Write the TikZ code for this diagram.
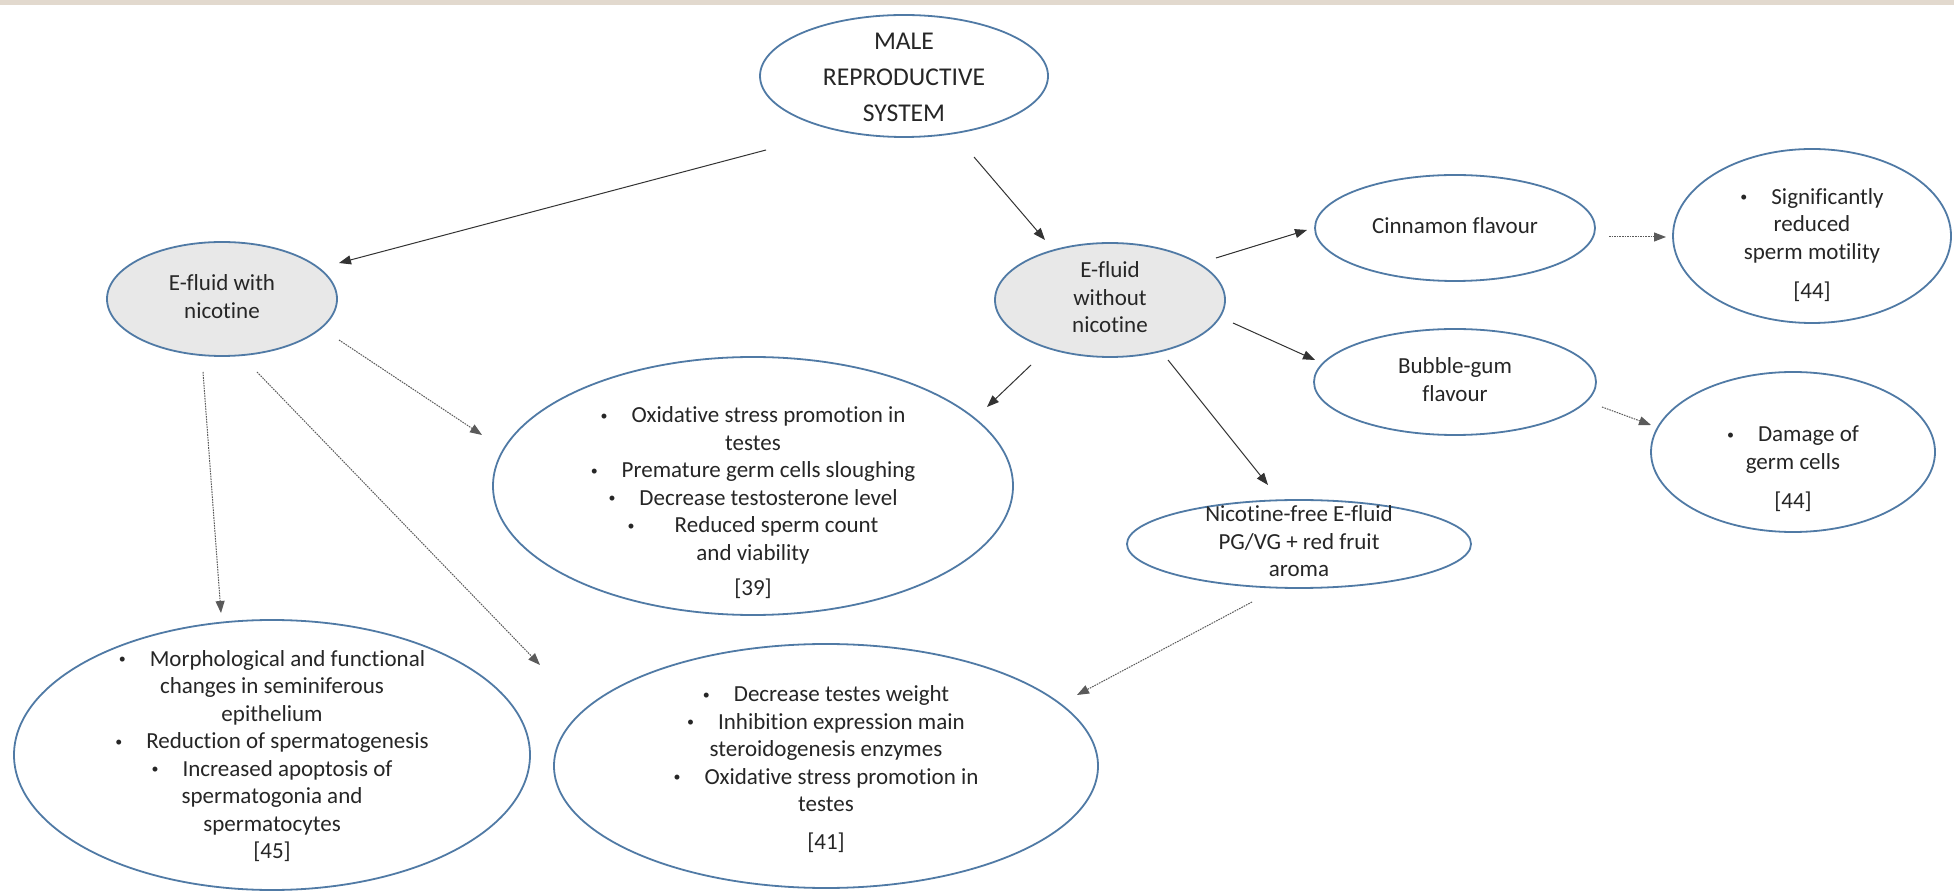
\documentclass[tikz,border=0pt]{standalone}
\usepackage{fontspec}
\setmainfont{Carlito}[Ligatures=NoCommon]
\usetikzlibrary{shapes.geometric,arrows.meta}
\definecolor{edgeblue}{RGB}{80,122,165}
\definecolor{fillgray}{RGB}{232,232,232}
\definecolor{topband}{RGB}{226,217,206}
\definecolor{dotgray}{RGB}{90,90,90}
\newcommand{\bul}{\raisebox{0.25ex}{\fontsize{7}{7}\selectfont\textbullet}\hspace{12pt}}
\newcommand{\ovt}[2]{\raisebox{#1}[0pt][0pt]{\begin{tabular}{@{}c@{}}#2\end{tabular}}}
\begin{document}
\begin{tikzpicture}[x=0.5pt,y=-0.5pt,
  oval/.style={ellipse,draw=edgeblue,line width=0.9pt,inner sep=0pt,align=center,
    font=\fontsize{11.5}{13.75}\selectfont,text=black!85},
  shaded/.style={oval,fill=fillgray},
  solidarrow/.style={-{Triangle[length=6pt,width=4.5pt]},line width=0.5pt,black!80},
  dotarrow/.style={-{Triangle[length=6pt,width=4.5pt]},line width=0.5pt,dotgray,dash pattern=on 0.8pt off 0.5pt}
]
\useasboundingbox (0,0) rectangle (1954,892);
\fill[white] (0,0) rectangle (1954,892);
\fill[topband] (0,0) rectangle (1954,5);

% nodes
\node[oval,minimum width=144pt,minimum height=61pt,font=\fontsize{12.8}{18}\selectfont] (male) at (904,76) {\ovt{-4pt}{MALE\\REPRODUCTIVE\\SYSTEM}};
\node[shaded,minimum width=115pt,minimum height=57pt] (with) at (222,299) {\ovt{-3pt}{E-fluid with\\nicotine}};
\node[shaded,minimum width=115pt,minimum height=57pt] (without) at (1110,300) {\ovt{-3pt}{E-fluid\\without\\nicotine}};
\node[oval,minimum width=140pt,minimum height=53pt] (cinn) at (1455,228) {\ovt{-3pt}{Cinnamon flavour}};
\node[oval,minimum width=139pt,minimum height=87pt] (sig) at (1812,236) {\ovt{-8pt}{\bul Significantly\\reduced\\sperm motility\\[6pt]{[44]}}};
\node[oval,minimum width=141pt,minimum height=53pt] (bubble) at (1455,382) {\ovt{-3pt}{Bubble-gum\\flavour}};
\node[oval,minimum width=142pt,minimum height=80pt] (damage) at (1793,452) {\ovt{-12pt}{\bul Damage of\\germ cells\\[6pt]{[44]}}};
\node[oval,minimum width=172pt,minimum height=44pt] (nfree) at (1299,544) {\ovt{-3pt}{Nicotine-free E-fluid\\PG/VG + red fruit\\aroma}};
\node[oval,minimum width=260pt,minimum height=129pt] (ox) at (753,486) {\ovt{-12pt}{\bul Oxidative stress promotion in\\testes\\\bul Premature germ cells sloughing\\\bul Decrease testosterone level\\\bul\hspace{8pt}Reduced sperm count\\and viability\\[4pt]{[39]}}};
\node[oval,minimum width=258pt,minimum height=135pt] (morph) at (272,755) {\ovt{-4pt}{\bul Morphological and functional\\changes in seminiferous\\epithelium\\\bul Reduction of spermatogenesis\\\bul Increased apoptosis of\\spermatogonia and\\spermatocytes\\{[45]}}};
\node[oval,minimum width=272pt,minimum height=122pt] (dec) at (826,766) {\ovt{-5pt}{\bul Decrease testes weight\\\bul Inhibition expression main\\steroidogenesis enzymes\\\bul Oxidative stress promotion in\\testes\\[5pt]{[41]}}};

% connector end points
\coordinate (m2wA) at (766,150); \coordinate (m2wB) at (339,263);
\coordinate (m2oA) at (974,157); \coordinate (m2oB) at (1045,240);
\coordinate (w2xA) at (339,340); \coordinate (w2xB) at (482,435);
\coordinate (w2mA) at (203,372); \coordinate (w2mB) at (221,613);
\coordinate (w2dA) at (257,372); \coordinate (w2dB) at (540,665);
\coordinate (o2xA) at (1031,365); \coordinate (o2xB) at (987,407);
\coordinate (o2cA) at (1216,258); \coordinate (o2cB) at (1307,230);
\coordinate (o2bA) at (1233,323); \coordinate (o2bB) at (1315,360);
\coordinate (o2nA) at (1168,360); \coordinate (o2nB) at (1268,485);
\coordinate (c2sA) at (1609,237); \coordinate (c2sB) at (1666,237);
\coordinate (b2dA) at (1602,407); \coordinate (b2dB) at (1651,425);
\coordinate (n2dA) at (1252,602); \coordinate (n2dB) at (1077,695);

% connectors
\draw[solidarrow] (m2wA) -- (m2wB);
\draw[solidarrow] (m2oA) -- (m2oB);
\draw[dotarrow] (w2xA) -- (w2xB);
\draw[dotarrow] (w2mA) -- (w2mB);
\draw[dotarrow] (w2dA) -- (w2dB);
\draw[solidarrow] (o2xA) -- (o2xB);
\draw[solidarrow] (o2cA) -- (o2cB);
\draw[solidarrow] (o2bA) -- (o2bB);
\draw[solidarrow] (o2nA) -- (o2nB);
\draw[dotarrow] (c2sA) -- (c2sB);
\draw[dotarrow] (b2dA) -- (b2dB);
\draw[dotarrow] (n2dA) -- (n2dB);
\end{tikzpicture}
\end{document}
